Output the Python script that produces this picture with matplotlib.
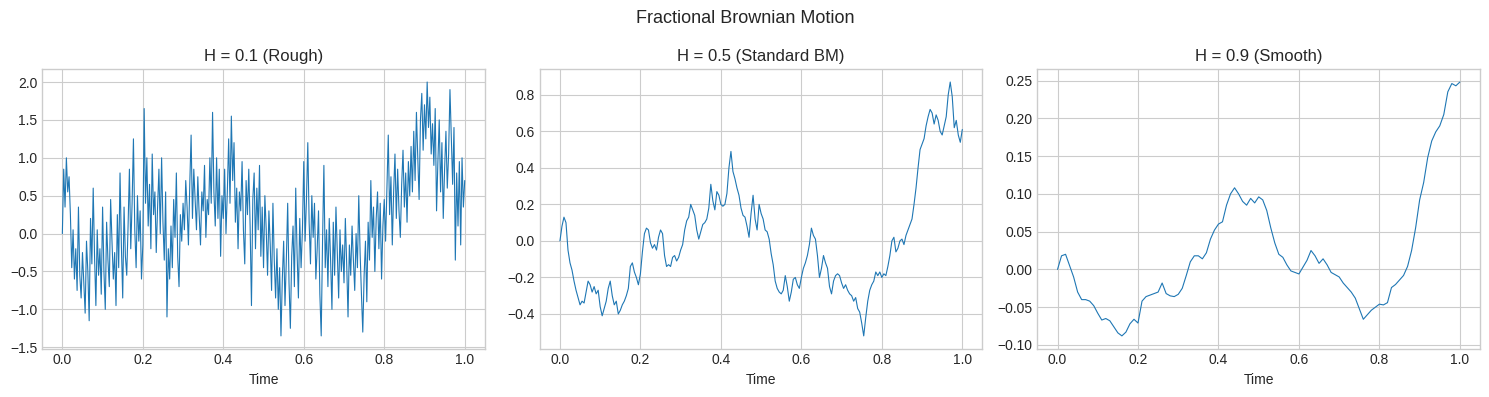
import numpy as np
import matplotlib.pyplot as plt

plt.style.use('seaborn-v0_8-whitegrid')

# values
hurst = [0.1, 0.5, 0.9]
titles = ["H = 0.1 (Rough)", "H = 0.5 (Standard BM)", "H = 0.9 (Smooth)"]

path_rough = [
    0.00, 0.85, 0.35, 1.00, 0.55, 0.75, 0.25, -0.45, 0.05, -0.60,
    -0.20, -0.75, 0.35, -0.55, -0.85, -0.25, -0.65, -1.05, -0.10, -0.50,
    -1.15, 0.20, -0.40, 0.60, -0.30, -0.95, 0.05, -0.55, -0.20, -0.80,
    0.35, -0.50, -1.00, 0.15, -0.35, -0.70, 0.45, -0.10, -0.60, -0.25,
    -0.95, 0.25, -0.45, 0.80, -0.15, -0.85, 0.35, -0.30, -0.55, 0.10,
    0.85, -0.20, 0.40, 1.25, 0.05, -0.45, 0.50, -0.10, 0.30, -0.60,
    -0.15, 1.65, 0.40, 1.00, 0.10, 0.65, -0.20, 1.05, 0.25, 0.55,
    -0.25, 0.35, 0.85, 0.00, 1.00, 0.15, -0.35, 0.55, -1.10, -0.20,
    -0.60, 0.10, -0.45, 0.45, -0.05, 0.80, -0.30, -0.70, 0.25, -0.10,
    0.40, 0.05, 0.70, 0.35, -0.15, 0.65, 1.30, 0.20, 0.85, 0.45,
    0.05, 0.75, 0.25, -0.15, 0.55, 0.30, 0.90, -0.05, 0.45, 0.25,
    1.00, 0.40, 1.60, 0.55, 0.10, 1.00, 0.20, 0.85, -0.30, 0.50,
    0.20, 0.85, 0.00, 0.55, 1.25, 0.40, 1.55, 0.70, 1.20, 0.15,
    0.60, -0.20, 0.55, 0.30, 0.95, 0.05, -0.40, 0.70, 0.25, 0.85,
    0.10, -0.95, 0.45, 0.80, -0.20, 0.60, 0.05, 0.90, -0.30, 0.35,
    -0.45, 0.50, 0.05, -0.55, 0.30, -0.15, -0.75, 0.40, -0.35, -0.85,
    -0.20, -1.00, -0.45, -1.35, -0.60, -0.10, -0.95, -0.35, 0.40, -0.65,
    -1.25, -0.30, 0.10, -0.70, 0.60, -0.25, -0.85, 0.20, -0.45, 0.05,
    0.95, -0.10, 0.45, 1.20, 0.15, -0.40, 0.50, -0.05, 0.40, -0.60,
    -0.20, 0.30, -0.80, -1.35, -0.10, 0.90, -0.45, 0.05, -0.70, 0.20,
    -0.35, -1.00, 0.15, -0.55, 0.35, -0.25, -0.85, 0.05, -0.50, -0.15,
    -0.65, 0.20, -0.40, -1.10, -0.15, -0.55, 0.10, -0.35, -0.75, 0.00,
    -0.45, 0.50, -0.25, -0.80, -1.30, -0.55, -0.10, -0.90, 0.15, -0.35,
    0.70, -0.05, 0.35, -0.50, 0.20, 0.55, -0.20, 0.40, -0.60, 0.10,
    0.45, -0.10, 0.60, 1.30, 0.25, 0.75, -0.15, 0.55, 1.05, 0.20,
    0.85, 0.30, -0.05, 0.65, 1.10, 0.35, 0.80, 0.15, 0.95, 0.50,
    1.15, 0.55, 1.35, 0.70, 1.60, 1.00, 0.45, 1.50, 1.85, 1.10,
    1.70, 1.25, 2.00, 1.40, 1.80, 1.05, 1.45, 0.90, 1.65, 0.30,
    0.95, 1.50, 0.55, 1.20, 0.20, 0.85, 1.35, 0.60, 1.05, 1.90,
    1.25, 0.65, 1.40, -0.35, 0.80, 0.10, 0.95, -0.15, 1.00, 0.35,
    0.70,
]

path_std = [
    0.00, 0.08, 0.13, 0.10, -0.05, -0.12, -0.16, -0.22, -0.27, -0.31,
    -0.35, -0.33, -0.34, -0.28, -0.22, -0.24, -0.28, -0.25, -0.29, -0.27,
    -0.36, -0.41, -0.37, -0.33, -0.26, -0.22, -0.30, -0.35, -0.33, -0.40,
    -0.38, -0.35, -0.33, -0.30, -0.26, -0.14, -0.12, -0.17, -0.20, -0.24,
    -0.18, -0.06, 0.04, 0.07, 0.06, -0.01, -0.04, -0.02, -0.05, 0.02,
    0.06, 0.04, -0.08, -0.14, -0.13, -0.14, -0.09, -0.08, -0.11, -0.09,
    -0.05, -0.02, 0.06, 0.11, 0.13, 0.20, 0.17, 0.14, 0.06, 0.01,
    0.05, 0.09, 0.10, 0.12, 0.18, 0.31, 0.22, 0.17, 0.27, 0.25,
    0.20, 0.19, 0.20, 0.26, 0.40, 0.49, 0.38, 0.34, 0.29, 0.25,
    0.18, 0.14, 0.13, 0.08, 0.02, 0.15, 0.25, 0.12, 0.06, 0.20,
    0.15, 0.12, 0.06, 0.05, 0.01, -0.07, -0.13, -0.22, -0.26, -0.28,
    -0.29, -0.27, -0.19, -0.25, -0.33, -0.28, -0.21, -0.20, -0.24, -0.26,
    -0.20, -0.15, -0.12, -0.08, -0.02, 0.07, 0.03, 0.01, -0.08, -0.20,
    -0.15, -0.08, -0.12, -0.15, -0.25, -0.29, -0.22, -0.19, -0.18, -0.19,
    -0.23, -0.26, -0.24, -0.27, -0.29, -0.30, -0.33, -0.31, -0.37, -0.39,
    -0.45, -0.52, -0.42, -0.33, -0.27, -0.24, -0.22, -0.17, -0.19, -0.17,
    -0.20, -0.18, -0.19, -0.14, -0.08, 0.00, 0.02, -0.06, -0.04, 0.00,
    0.01, -0.02, 0.03, 0.06, 0.09, 0.12, 0.20, 0.29, 0.40, 0.50,
    0.53, 0.56, 0.63, 0.68, 0.72, 0.70, 0.64, 0.69, 0.66, 0.60,
    0.58, 0.63, 0.68, 0.80, 0.87, 0.79, 0.62, 0.66, 0.58, 0.54,
    0.61,
]

path_smooth = [
    0.000, 0.018, 0.020, 0.005, -0.010, -0.030, -0.040, -0.040, -0.042, -0.048,
    -0.058, -0.067, -0.065, -0.068, -0.076, -0.084, -0.088, -0.083, -0.072, -0.066,
    -0.071, -0.042, -0.036, -0.034, -0.032, -0.030, -0.018, -0.032, -0.035, -0.036,
    -0.033, -0.025, -0.008, 0.010, 0.018, 0.018, 0.014, 0.022, 0.040, 0.052,
    0.060, 0.063, 0.085, 0.100, 0.108, 0.100, 0.090, 0.085, 0.094, 0.088,
    0.096, 0.092, 0.078, 0.055, 0.035, 0.020, 0.016, 0.006, -0.002, -0.004,
    -0.006, 0.003, 0.012, 0.025, 0.018, 0.008, 0.014, 0.006, -0.004, -0.007,
    -0.010, -0.018, -0.024, -0.030, -0.038, -0.052, -0.066, -0.060, -0.054, -0.050,
    -0.046, -0.047, -0.044, -0.024, -0.020, -0.014, -0.008, 0.004, 0.025, 0.055,
    0.092, 0.115, 0.148, 0.170, 0.182, 0.190, 0.205, 0.235, 0.246, 0.243,
    0.248,
]

paths = [path_rough, path_std, path_smooth]

fig, axes = plt.subplots(1, 3, figsize=(15, 4))

for ax, path, title in zip(axes, paths, titles):
    t = np.linspace(0, 1, len(path))
    ax.plot(t, path, color='#1f77b4', linewidth=0.8)
    ax.set_title(title, fontsize=12)
    ax.set_xlabel("Time")
    ax.set_xticks([0.0, 0.2, 0.4, 0.6, 0.8, 1.0])
    for spine in ax.spines.values():
        spine.set_visible(True)
        spine.set_color('#cccccc')

fig.suptitle("Fractional Brownian Motion", fontsize=13)
plt.tight_layout()
plt.savefig("out.png", dpi=100, bbox_inches='tight')
